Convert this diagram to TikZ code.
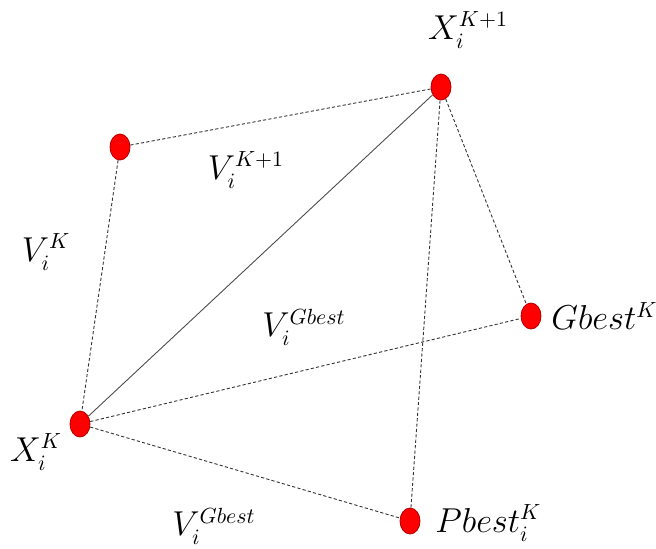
\documentclass[tikz,border=0pt]{standalone}
\usetikzlibrary{shapes.geometric, positioning}

\begin{document}
\begin{tikzpicture}[
    x=0.5pt, y=-0.5pt,
    dot/.style={draw=red!70!black, fill=red, ellipse, minimum width=10pt, minimum height=13pt, inner sep=0pt},
    link/.style={dash pattern=on 1.6pt off 1.1pt, line width=0.45pt, black!80},
    move/.style={line width=0.45pt, black!70},
    lbl/.style={font=\fontsize{16}{19}\selectfont, inner sep=1pt}
]
\useasboundingbox (0,0) rectangle (656,548);
\node[dot] (Vk) at (120, 147) {};
\node[dot] (Xk1) at (441, 87) {};
\node[dot] (Gbest) at (531, 316) {};
\node[dot] (Pbest) at (410, 521) {};
\node[dot] (Xk) at (80, 424) {};

\node[lbl] (XkOneLbl) at (468, 30) {$X_i^{K+1}$};
\node[lbl] (VkOneLbl) at (246, 170) {$V_i^{K+1}$};
\node[lbl] (VkLbl) at (46, 252) {$V_i^{K}$};
\node[lbl] (VgMidLbl) at (304, 327) {$V_i^{Gbest}$};
\node[lbl] (XkLbl) at (36, 452) {$X_i^{K}$};
\node[lbl] (VgLowLbl) at (214, 526) {$V_i^{Gbest}$};
\node[lbl, anchor=west] (GbestLbl) at (549, 316) {$Gbest^{K}$};
\node[lbl, anchor=west] (PbestLbl) at (433, 523) {$Pbest_i^{K}$};

\draw[link] (Vk) -- (Xk1);
\draw[link] (Vk) -- (Xk);
\draw[move] (Xk) -- (Xk1);
\draw[link] (Xk) -- (Gbest);
\draw[link] (Xk) -- (Pbest);
\draw[link] (Xk1) -- (Gbest);
\draw[link] (Xk1) -- (Pbest);
\end{tikzpicture}
\end{document}
